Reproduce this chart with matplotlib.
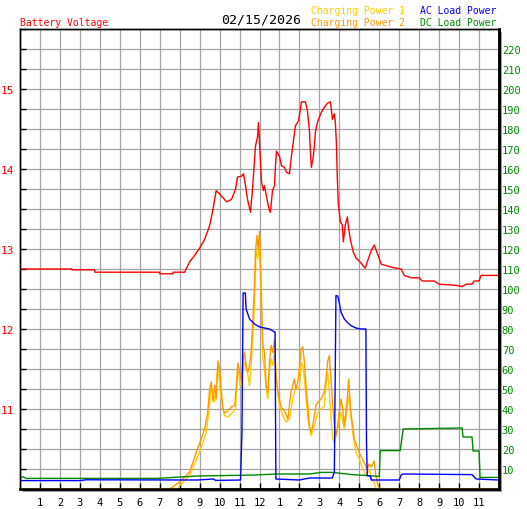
import numpy as np
import matplotlib
matplotlib.use("Agg")
import matplotlib.pyplot as plt
from matplotlib.patches import Rectangle

# Battery voltage (hours, volts)
volt_h = [0, 2.6, 2.6, 3.75, 3.75, 7.0, 7.0, 7.67, 7.67, 8.25, 8.5, 8.75, 9.0, 9.25, 9.5,
          9.65, 9.83, 10.0, 10.1, 10.35, 10.6, 10.8, 10.9, 11.1, 11.2, 11.3, 11.4, 11.55,
          11.65, 11.8, 11.9, 11.95, 12.05, 12.1, 12.2, 12.25, 12.4, 12.5, 12.55, 12.65,
          12.75, 12.8, 12.85, 13.0, 13.1, 13.25, 13.35, 13.5, 13.6, 13.7, 13.8, 13.95,
          14.05, 14.1, 14.3, 14.4, 14.5, 14.55, 14.6, 14.7, 14.75, 14.8, 14.9, 15.0, 15.1,
          15.2, 15.3, 15.4, 15.55, 15.6, 15.65, 15.75, 15.8, 15.85, 15.9, 15.95, 16.05,
          16.15, 16.2, 16.3, 16.4, 16.45, 16.55, 16.7, 16.85, 17.0, 17.3, 17.4, 17.6,
          17.75, 17.9, 18.1, 18.65, 19.1, 19.25, 19.6, 20.0, 20.15, 20.75, 21.0, 21.65,
          22.0, 22.15, 22.35, 22.65, 22.75, 23.0, 23.1, 24.0]
volt_v = [12.75, 12.75, 12.74, 12.74, 12.71, 12.71, 12.69, 12.69, 12.71, 12.71, 12.84, 12.92,
          13.01, 13.12, 13.29, 13.47, 13.73, 13.69, 13.66, 13.59, 13.62, 13.75, 13.9, 13.91,
          13.94, 13.79, 13.62, 13.46, 13.75, 14.29, 14.4, 14.58, 14.09, 13.84, 13.73, 13.79,
          13.59, 13.48, 13.46, 13.73, 13.79, 14.04, 14.22, 14.16, 14.04, 14.02, 13.96, 13.94,
          14.16, 14.35, 14.54, 14.6, 14.75, 14.84, 14.84, 14.73, 14.48, 14.22, 14.02, 14.16,
          14.29, 14.46, 14.58, 14.65, 14.71, 14.75, 14.79, 14.82, 14.84, 14.75, 14.62, 14.69,
          14.58, 14.34, 13.88, 13.56, 13.34, 13.3, 13.09, 13.3, 13.4, 13.29, 13.12, 12.96,
          12.88, 12.85, 12.76, 12.84, 12.98, 13.05, 12.95, 12.81, 12.77, 12.75, 12.67, 12.64,
          12.64, 12.6, 12.6, 12.56, 12.55, 12.54, 12.53, 12.56, 12.56, 12.6, 12.6, 12.67, 12.67]

# Charging Power 1 (W)
cp1_h = [0, 7.9, 8.0, 8.5, 9.0, 9.33, 9.5, 9.58, 9.75, 9.92, 10.08, 10.25, 10.42, 10.67,
         10.8, 10.92, 11.03, 11.25, 11.42, 11.5, 11.58, 11.75, 11.83, 11.92, 12.0, 12.08,
         12.17, 12.25, 12.33, 12.42, 12.5, 12.58, 12.67, 12.75, 12.87, 13.0, 13.17, 13.33,
         13.5, 13.67, 13.83, 14.0, 14.08, 14.17, 14.25, 14.42, 14.58, 14.75, 14.92, 15.08,
         15.25, 15.33, 15.42, 15.5, 15.58, 15.67, 15.75, 15.92, 16.08, 16.25, 16.42, 16.5,
         16.58, 16.67, 16.83, 17.0, 17.17, 17.33, 17.5, 17.63, 17.75, 17.83, 24.0]
cp1_p = [0, 0, 1.7, 6.7, 18.5, 28, 41.7, 51.7, 43.5, 61.7, 45, 36.7, 36, 38.5,
         40, 61.7, 51.7, 63.5, 56.7, 51.7, 61.7, 91.7, 120, 115, 125, 93.5,
         65, 60, 50, 45, 60, 65, 61.7, 68.5, 51.7, 41.7, 36.7, 33.5,
         35, 45, 51.7, 50, 63.3, 61.7, 55, 35, 26.7, 31.7, 38.3, 40,
         41.7, 51.7, 58, 48.3, 35, 25, 23.3, 30, 38.3, 30, 42, 47,
         36, 28.3, 18.3, 15, 10, 6.7, 10, 5, 3.3, 0, 0]

# Charging Power 2 (W)
cp2_h = [0, 7.5, 8.0, 8.5, 8.83, 9.08, 9.25, 9.4, 9.5, 9.58, 9.67, 9.75, 9.83, 9.92, 10.0,
         10.08, 10.17, 10.25, 10.42, 10.58, 10.75, 10.83, 10.92, 11.0, 11.08, 11.17, 11.25,
         11.33, 11.42, 11.5, 11.58, 11.67, 11.75, 11.8, 11.87, 11.93, 12.0, 12.08, 12.17,
         12.25, 12.33, 12.42, 12.5, 12.58, 12.67, 12.75, 12.83, 12.92, 13.0, 13.08, 13.25,
         13.42, 13.58, 13.75, 13.83, 13.92, 14.0, 14.08, 14.17, 14.25, 14.33, 14.42, 14.5,
         14.58, 14.67, 14.83, 14.92, 15.08, 15.25, 15.33, 15.42, 15.5, 15.58, 15.67, 15.75,
         15.83, 15.92, 16.0, 16.08, 16.17, 16.25, 16.33, 16.42, 16.47, 16.52, 16.58, 16.67,
         16.75, 17.0, 17.25, 17.4, 17.5, 17.6, 17.75, 17.83, 17.92, 18.0, 24.0]
cp2_p = [0, 0, 3.5, 8.5, 18.3, 25, 30, 38, 50, 53.5, 44, 51.7, 45, 64, 60,
         50, 40, 38, 39, 41, 41.7, 50, 63, 58.5, 55, 63.5, 68.5,
         61.7, 58.5, 61.7, 68.5, 85, 101.7, 118.5, 126.7, 120, 129, 101.7, 71.7,
         68.3, 51.7, 48.5, 63.5, 71.7, 68.3, 75, 56.7, 48.5, 45, 41, 39,
         35, 48.5, 55, 50, 53.5, 60, 70, 71, 63.5, 51.7, 41.7, 31.7,
         28.3, 31.7, 41.7, 43.3, 45, 48.5, 55, 64, 66.7, 55, 41.7, 31.7,
         26.7, 31.7, 38.5, 45, 40, 31.7, 38.5, 48, 55, 46, 38, 31.7,
         25, 18, 13, 10, 12.5, 11, 14, 6.7, 2.5, 0, 0]

# AC Load Power (W)
ac_h = [0, 3.0, 3.3, 8.9, 9.7, 9.8, 11.05, 11.12, 11.18, 11.29, 11.33, 11.5, 11.75, 12.0,
        12.5, 12.75, 12.78, 12.82, 14.0, 14.5, 15.1, 15.65, 15.75, 15.83, 15.92, 16.0,
        16.08, 16.25, 16.4, 16.58, 16.83, 17.08, 17.33, 17.36, 17.4, 17.55, 17.6, 19.0,
        19.1, 19.2, 22.65, 22.85, 24.0]
ac_p = [4.2, 4.2, 4.6, 4.5, 5.0, 4.3, 4.5, 28, 98, 98, 90, 85, 82.5, 81,
        80, 78.5, 78.5, 5, 4.5, 5.5, 5.5, 5.5, 8.5, 96.7, 96.5, 93,
        88.5, 85, 83.3, 81.7, 80.5, 80, 80, 23.5, 6.7, 6.5, 4.5, 4.5,
        7, 7.5, 7.2, 5, 4.5]

# DC Load Power (W)
dc_h = [0, 0.15, 0.3, 6.85, 8.9, 11.8, 12.85, 14.5, 15.1, 15.65, 16.65, 18.0, 18.05,
        19.05, 19.2, 22.15, 22.2, 22.65, 22.7, 23.0, 23.05, 24.0]
dc_p = [5.3, 6.2, 5.3, 5.3, 6.5, 7.0, 7.5, 7.5, 8.3, 8.3, 7.2, 6.3, 19.2,
        19.2, 30, 30.5, 26, 26, 19, 19, 5.8, 5.8]

hour_ticks = list(range(1, 24))
hour_labels = [str(h) for h in range(1, 13)] + [str(h) for h in range(1, 12)]

RED = '#ff0000'
GOLD = '#ffcc00'
ORANGE = '#ff9900'
BLUE = '#0000ff'
GREEN = '#008800'
GRID = '#a4a4a4'
MONO = 'DejaVu Sans Mono'

fig = plt.figure(figsize=(5.27, 5.10), dpi=100)
W, H = 527, 510
x0, y0, x1, y1 = 20, 30, 499, 490

# drop shadow behind the plot frame
fig.patches.append(Rectangle(((x0 + 3) / W, (H - y1 - 3) / H), (x1 - x0) / W, (y1 - y0) / H,
                             transform=fig.transFigure, facecolor='#9a9a9a',
                             edgecolor='none', zorder=-1))

ax = fig.add_axes([x0 / W, (H - y1) / H, (x1 - x0) / W, (y1 - y0) / H])
ax.set_facecolor('white')
ax.set_xlim(0, 24)
ax.set_ylim(10, 15.75)

vticks = np.arange(10, 15.76, 0.25)
ax.set_yticks(vticks)
ax.set_yticklabels([str(int(v)) if v % 1 == 0 and v > 10 else '' for v in vticks])
ax.set_xticks(hour_ticks)
ax.set_xticklabels(hour_labels)
ax.grid(True, color=GRID, linewidth=0.9)
ax.set_axisbelow(True)
ax.tick_params(axis='y', direction='in', length=4, width=1, colors='black',
               labelcolor=RED, labelsize=8, pad=4)
ax.tick_params(axis='x', direction='in', length=4, width=1, colors='black',
               labelsize=7.5, pad=6)
for lab in ax.get_xticklabels() + ax.get_yticklabels():
    lab.set_family(MONO)

ax.plot(volt_h, volt_v, color=RED, linewidth=1.0, zorder=3)

ax2 = ax.twinx()
ax2.set_ylim(0, 230)
ax2.set_yticks(range(10, 221, 10))
ax2.tick_params(axis='y', length=0, labelcolor=GREEN, labelsize=7.5, pad=2)
for lab in ax2.get_yticklabels():
    lab.set_family(MONO)

ax2.plot(cp1_h, cp1_p, color=GOLD, linewidth=1.0)
ax2.plot(cp2_h, cp2_p, color=ORANGE, linewidth=1.0)
ax2.plot(dc_h, dc_p, color=GREEN, linewidth=1.0)
ax2.plot(ac_h, ac_p, color=BLUE, linewidth=1.0)

for a in (ax, ax2):
    for side in ('left', 'top'):
        a.spines[side].set_linewidth(1.0)
    for side in ('right', 'bottom'):
        a.spines[side].set_linewidth(1.8)
    for s in a.spines.values():
        s.set_color('black')

# header texts
fig.text(x0 / W, 1 - 23 / H, 'Battery Voltage', color=RED, fontsize=7, family=MONO, va='center')
fig.text(261 / W, 1 - 20 / H, '02/15/2026', color='black', fontsize=9.5, family=MONO,
         ha='center', va='center')
fig.text(311 / W, 1 - 11 / H, 'Charging Power 1', color=GOLD, fontsize=7, family=MONO, va='center')
fig.text(311 / W, 1 - 23 / H, 'Charging Power 2', color=ORANGE, fontsize=7, family=MONO, va='center')
fig.text(496 / W, 1 - 11 / H, 'AC Load Power', color=BLUE, fontsize=7, family=MONO,
         ha='right', va='center')
fig.text(496 / W, 1 - 23 / H, 'DC Load Power', color=GREEN, fontsize=7, family=MONO,
         ha='right', va='center')

fig.savefig('out.png', dpi=100)
